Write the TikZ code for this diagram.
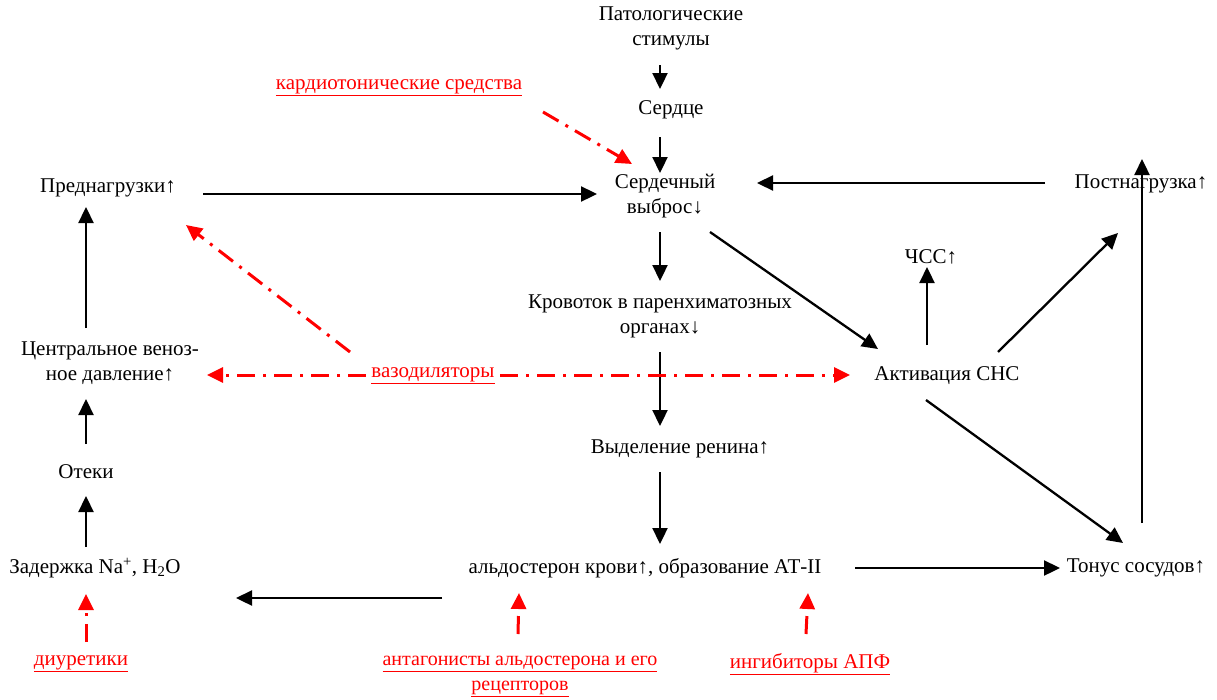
\documentclass[tikz,border=0pt]{standalone}
\usepackage{fontspec}
\setmainfont{Liberation Serif}
\usetikzlibrary{arrows.meta}
\begin{document}
\begin{tikzpicture}[x=1pt,y=-1pt,
  txt/.style={inner sep=0pt,align=center,font=\fontsize{21}{25}\selectfont},
  drug/.style={txt,text=red},
  blk/.style={line width=2.3pt,-{Triangle[length=16pt,width=15pt]}},
  med/.style={red,line width=3pt,dash pattern=on 18pt off 8pt on 3pt off 8pt,-{Triangle[length=16pt,width=15pt]}}]
\useasboundingbox (0,0) rectangle (1217,699);
% nodes
\node[txt] (pat) at (671,28) {Патологические\\стимулы};
\node[txt] (heart) at (671,110) {Сердце};
\node[txt] (co) at (665,196) {Сердечный\\выброс↓};
\node[txt] (pre) at (108,188) {Преднагрузки↑};
\node[txt] (post) at (1141,184) {Постнагрузка↑};
\node[txt] (hr) at (931,257) {ЧСС↑};
\node[txt] (sns) at (947,376) {Активация СНС};
\node[txt] (flow) at (660,316) {Кровоток в паренхиматозных\\органах↓};
\node[txt] (renin) at (680,449) {Выделение ренина↑};
\node[txt] (ald) at (645,568) {альдостерон крови↑, образование АТ-II};
\node[txt] (tone) at (1136,568) {Тонус сосудов↑};
\node[txt] (na) at (95,568) {Задержка Na\textsuperscript{+}, H\textsubscript{2}O};
\node[txt] (edema) at (86,472) {Отеки};
\node[txt] (cvp) at (110,363) {Центральное веноз-\\ное давление↑};
% drugs
\node[drug] (cardio) at (399,88) {\underline{кардиотонические средства}};
\node[drug] (vaso) at (433,376) {\underline{вазодиляторы}};
\node[drug] (diur) at (81,664) {\underline{диуретики}};
\node[drug,font=\fontsize{20}{25}\selectfont] (antag) at (520,676) {\underline{антагонисты альдостерона и его}\\\underline{рецепторов}};
\node[drug] (ace) at (810,664) {\underline{ингибиторы АПФ}};
% coordinates
\coordinate (a1) at (660,65);   \coordinate (a2) at (660,89);
\coordinate (b1) at (660,137);  \coordinate (b2) at (660,173);
\coordinate (c1) at (203,194);  \coordinate (c2) at (597,194);
\coordinate (d1) at (1045,183); \coordinate (d2) at (757,183);
\coordinate (e1) at (660,232);  \coordinate (e2) at (660,281);
\coordinate (f1) at (710,232);  \coordinate (f2) at (878,349);
\coordinate (g1) at (927,345);  \coordinate (g2) at (927,267);
\coordinate (h1) at (998,352);  \coordinate (h2) at (1118,233);
\coordinate (i1) at (926,400);  \coordinate (i2) at (1123,543);
\coordinate (j1) at (1142,523); \coordinate (j2) at (1142,159);
\coordinate (k1) at (660,352);  \coordinate (k2) at (660,426);
\coordinate (l1) at (660,472);  \coordinate (l2) at (660,544);
\coordinate (m1) at (855,568);  \coordinate (m2) at (1060,568);
\coordinate (n1) at (442,598);  \coordinate (n2) at (236,598);
\coordinate (o1) at (86,547);   \coordinate (o2) at (86,496);
\coordinate (p1) at (86,444);   \coordinate (p2) at (86,399);
\coordinate (q1) at (86,328);   \coordinate (q2) at (86,207);
% black connectors
\draw[blk] (a1) -- (a2);
\draw[blk] (b1) -- (b2);
\draw[blk] (c1) -- (c2);
\draw[blk] (d1) -- (d2);
\draw[blk] (e1) -- (e2);
\draw[blk] (f1) -- (f2);
\draw[blk] (g1) -- (g2);
\draw[blk] (h1) -- (h2);
\draw[blk] (i1) -- (i2);
\draw[blk] (j1) -- (j2);
\draw[blk] (k1) -- (k2);
\draw[blk] (l1) -- (l2);
\draw[blk] (m1) -- (m2);
\draw[blk] (n1) -- (n2);
\draw[blk] (o1) -- (o2);
\draw[blk] (p1) -- (p2);
\draw[blk] (q1) -- (q2);
% red connectors
\coordinate (r1) at (543,112);  \coordinate (r2) at (632,164);
\coordinate (s1) at (366,375);  \coordinate (s2) at (207,375);
\coordinate (t1) at (500,375);  \coordinate (t2) at (850,375);
\coordinate (u1) at (350,352);  \coordinate (u2) at (186,225);
\coordinate (v1) at (86,642);   \coordinate (v2) at (86,594);
\coordinate (w1) at (518,634);  \coordinate (w2) at (519,593);
\coordinate (x1) at (806,634);  \coordinate (x2) at (808,593);
\draw[med] (r1) -- (r2);
\draw[med] (s1) -- (s2);
\draw[med] (t1) -- (t2);
\draw[med] (u1) -- (u2);
\draw[med] (v1) -- (v2);
\draw[med] (w1) -- (w2);
\draw[med] (x1) -- (x2);
\end{tikzpicture}
\end{document}
